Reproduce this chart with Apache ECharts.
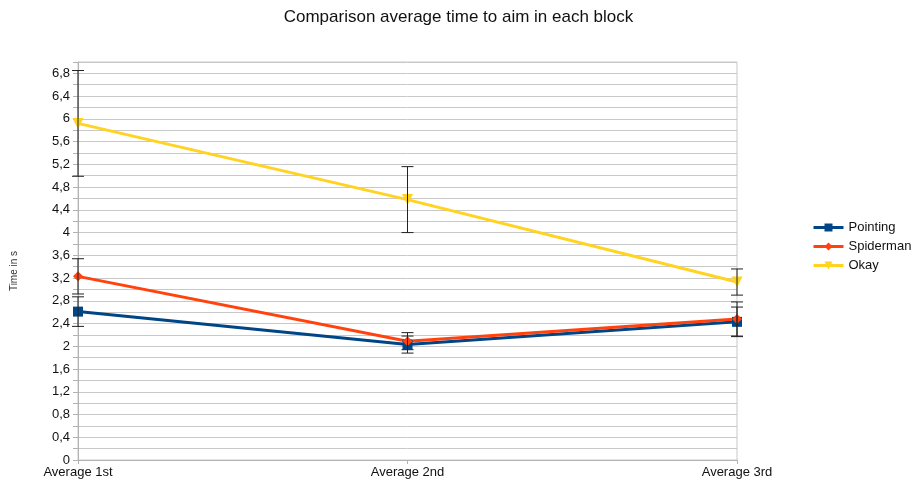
<!DOCTYPE html>
<html>
<head>
<meta charset="utf-8">
<script src="https://cdn.jsdelivr.net/npm/echarts@6/dist/echarts.min.js"></script>
<style>
  html, body { margin: 0; padding: 0; background: #fff; }
  #chart { width: 917px; height: 491px; }
</style>
</head>
<body>
<div id="chart"></div>
<script>
// Blocks on the x axis
const categories = ['Average 1st', 'Average 2nd', 'Average 3rd'];

// Mean aiming time (s) per gesture
const pointing = [2.61, 2.03, 2.43];
const spiderman = [3.23, 2.09, 2.48];
const okay = [5.92, 4.58, 3.13];

// Error half-widths (s)
const pointingErr = [0.26, 0.15, 0.26];
const spidermanErr = [0.31, 0.15, 0.30];
const okayErr = [0.93, 0.58, 0.23];

const FONT = '"Liberation Sans", Arial, sans-serif';

function errData(vals, errs) {
  return vals.map((v, i) => [i, v - errs[i], v + errs[i]]);
}

function errSeries(name, vals, errs) {
  return {
    type: 'custom',
    name: name + ' error',
    z: 5,
    silent: true,
    renderItem: function (params, api) {
      const x = api.value(0);
      const lo = api.coord([x, api.value(1)]);
      const hi = api.coord([x, api.value(2)]);
      const cap = 6;
      const st = { stroke: '#222', lineWidth: 1 };
      return {
        type: 'group',
        children: [
          { type: 'line', shape: { x1: lo[0], y1: lo[1], x2: hi[0], y2: hi[1] }, style: st },
          { type: 'line', shape: { x1: lo[0] - cap, y1: lo[1], x2: lo[0] + cap, y2: lo[1] }, style: st },
          { type: 'line', shape: { x1: hi[0] - cap, y1: hi[1], x2: hi[0] + cap, y2: hi[1] }, style: st }
        ]
      };
    },
    encode: { x: 0, y: [1, 2] },
    data: errData(vals, errs)
  };
}

function lineSeries(name, vals, color, symbol, size, rotate) {
  return {
    type: 'line',
    name: name,
    data: vals,
    z: 3,
    color: color,
    symbol: symbol,
    symbolSize: size,
    symbolRotate: rotate || 0,
    showAllSymbol: true,
    lineStyle: { width: 3, color: color },
    itemStyle: { color: color },
    emphasis: { disabled: true }
  };
}

const chart = echarts.init(document.getElementById('chart'));
chart.setOption({
  animation: false,
  backgroundColor: '#fff',
  textStyle: { fontFamily: FONT },
  title: {
    text: 'Comparison average time to aim in each block',
    left: 'center',
    top: 4,
    textStyle: { fontFamily: FONT, fontSize: 17, fontWeight: 'normal', color: '#111' }
  },
  grid: {
    left: 78, right: 180, top: 62, bottom: 31,
    show: true, borderColor: '#c8c8c8', borderWidth: 1
  },
  legend: {
    orient: 'vertical',
    left: 807,
    top: 216,
    itemWidth: 30,
    itemHeight: 10,
    itemGap: 6,
    lineStyle: { width: 3 },
    data: ['Pointing', 'Spiderman', 'Okay'],
    textStyle: { fontFamily: FONT, fontSize: 13, color: '#111' }
  },
  xAxis: {
    type: 'category',
    data: categories,
    boundaryGap: false,
    axisLine: { lineStyle: { color: '#b3b3b3' } },
    axisTick: { show: true, length: 4, lineStyle: { color: '#b3b3b3' } },
    axisLabel: { fontFamily: FONT, fontSize: 13, color: '#111', margin: 6 },
    splitLine: { show: false }
  },
  yAxis: {
    type: 'value',
    min: 0,
    max: 7,
    interval: 0.2,
    axisLine: { show: true, lineStyle: { color: '#b3b3b3' } },
    axisTick: { show: true, length: 5, lineStyle: { color: '#b3b3b3' } },
    splitLine: { show: true, lineStyle: { color: '#c8c8c8', width: 1 } },
    axisLabel: {
      fontFamily: FONT, fontSize: 13, color: '#111', margin: 8,
      formatter: function (v) {
        const t = Math.round(v * 10);
        if (t % 4 !== 0 || t > 68) return '';
        return String(t / 10).replace('.', ',');
      }
    }
  },
  graphic: [{
    type: 'text',
    x: 14,
    y: 271,
    rotation: Math.PI / 2,
    style: {
      text: 'Time in s',
      font: '10px ' + FONT,
      fill: '#333',
      align: 'center',
      verticalAlign: 'middle'
    }
  }],
  series: [
    lineSeries('Pointing', pointing, '#004586', 'rect', 10),
    lineSeries('Spiderman', spiderman, '#ff420e', 'diamond', 10),
    lineSeries('Okay', okay, '#ffd320', 'triangle', 11, 180),
    errSeries('Pointing', pointing, pointingErr),
    errSeries('Spiderman', spiderman, spidermanErr),
    errSeries('Okay', okay, okayErr)
  ]
});
</script>
</body>
</html>
